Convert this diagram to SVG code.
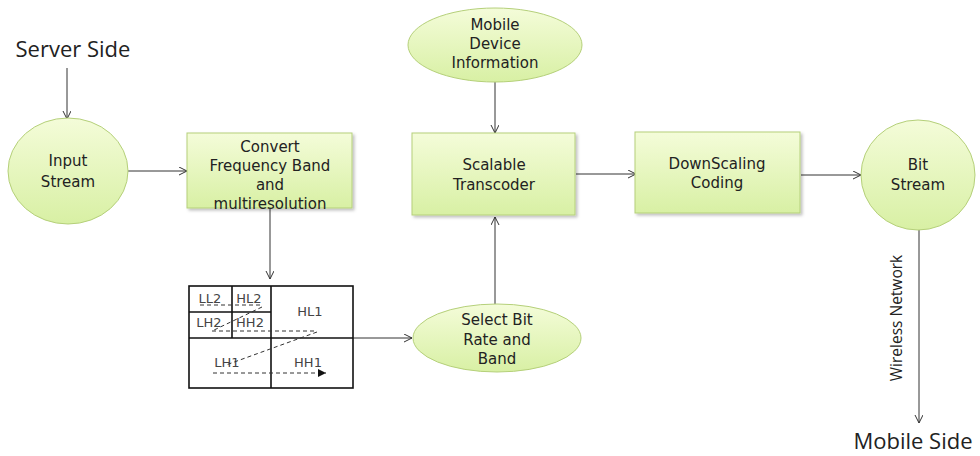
<svg xmlns="http://www.w3.org/2000/svg" width="980" height="456" viewBox="0 0 980 456">
<style>
.t{font-family:"Open Sans","Noto Sans","DejaVu Sans",sans-serif;fill:#222;text-anchor:middle}
.n{font-family:"DejaVu Sans",sans-serif;font-size:15px}
.big{font-size:22px}
.g{font-size:13px;fill:#444;font-family:"DejaVu Sans",sans-serif;text-anchor:middle}
.node{fill:url(#gr);stroke:#b5d07a;stroke-width:1}
.box{fill:url(#gr);stroke:#b5d07a;stroke-width:1;filter:url(#sh)}
.c{stroke:#333;stroke-width:1;fill:none}
.d{stroke:#333;stroke-width:1;fill:none;stroke-dasharray:4 3}
.grid{stroke:#111;stroke-width:1.6;fill:#fff}
</style>
<defs>
<linearGradient id="gr" x1="0" y1="0" x2="0" y2="1">
<stop offset="0" stop-color="#f4fcd9"/>
<stop offset="1" stop-color="#d8f0a4"/>
</linearGradient>
<filter id="sh" x="-10%" y="-10%" width="125%" height="130%">
<feDropShadow dx="2" dy="2" stdDeviation="1.5" flood-color="#000" flood-opacity="0.25"/>
</filter>
<marker id="a" markerWidth="10" markerHeight="10" refX="8" refY="4" orient="auto" markerUnits="userSpaceOnUse">
<path d="M0,0 L8,4 L0,8" fill="none" stroke="#333" stroke-width="1"/>
</marker>
<marker id="f" markerWidth="10" markerHeight="10" refX="8" refY="4" orient="auto" markerUnits="userSpaceOnUse">
<path d="M0,0 L8,4 L0,8 Z" fill="#111"/>
</marker>
</defs>
<g id="connectors">
<line class="c" x1="67" y1="68" x2="67" y2="119" marker-end="url(#a)"/>
<line class="c" x1="128" y1="171" x2="187" y2="171" marker-end="url(#a)"/>
<line class="c" x1="270" y1="208" x2="270" y2="279" marker-end="url(#a)"/>
<line class="c" x1="353" y1="338" x2="412" y2="338" marker-end="url(#a)"/>
<line class="c" x1="495" y1="304" x2="495" y2="217" marker-end="url(#a)"/>
<line class="c" x1="495" y1="82" x2="495" y2="133" marker-end="url(#a)"/>
<line class="c" x1="576" y1="174" x2="636" y2="174" marker-end="url(#a)"/>
<line class="c" x1="801" y1="175" x2="861" y2="175" marker-end="url(#a)"/>
<line class="c" x1="919" y1="230" x2="919" y2="423" marker-end="url(#a)"/>
</g>
<text class="t big" x="73" y="57">Server Side</text>
<text class="t big" x="913" y="449">Mobile Side</text>
<text class="t" style="font-size:15.5px" transform="translate(902,318) rotate(-90)">Wireless Network</text>
<g id="input">
<ellipse class="node" cx="68" cy="171" rx="60" ry="53"/>
<text class="t n" x="68" y="166">Input</text>
<text class="t n" x="68" y="187">Stream</text>
</g>
<g id="convert">
<rect class="box" x="187" y="133" width="165" height="75"/>
<text class="t n" x="270" y="152">Convert</text>
<text class="t n" x="270" y="171">Frequency Band</text>
<text class="t n" x="270" y="190">and</text>
<text class="t n" x="270" y="209">multiresolution</text>
</g>
<g id="mobile">
<ellipse class="node" cx="495" cy="45" rx="87" ry="37"/>
<text class="t n" x="495" y="30">Mobile</text>
<text class="t n" x="495" y="49">Device</text>
<text class="t n" x="495" y="68">Information</text>
</g>
<g id="scalable">
<rect class="box" x="412" y="133" width="163" height="82"/>
<text class="t n" x="494" y="170">Scalable</text>
<text class="t n" x="494" y="190">Transcoder</text>
</g>
<g id="downscaling">
<rect class="box" x="635" y="132" width="165" height="81"/>
<text class="t n" x="717" y="169">DownScaling</text>
<text class="t n" x="717" y="188">Coding</text>
</g>
<g id="bitstream">
<ellipse class="node" cx="918" cy="175" rx="57" ry="55"/>
<text class="t n" x="918" y="170">Bit</text>
<text class="t n" x="918" y="190">Stream</text>
</g>
<g id="select">
<ellipse class="node" cx="497" cy="338" rx="84" ry="34"/>
<text class="t n" x="497" y="325">Select Bit</text>
<text class="t n" x="497" y="345">Rate and</text>
<text class="t n" x="497" y="364">Band</text>
</g>
<g id="subbands">
<rect class="grid" x="189" y="286" width="164" height="102"/>
<line class="grid" x1="271" y1="286" x2="271" y2="388"/>
<line class="grid" x1="189" y1="338" x2="353" y2="338"/>
<line class="grid" x1="232" y1="286" x2="232" y2="338"/>
<line class="grid" x1="189" y1="312" x2="271" y2="312"/>
<text class="g" x="210" y="303">LL2</text>
<text class="g" x="249" y="303">HL2</text>
<text class="g" x="209" y="327">LH2</text>
<text class="g" x="250" y="327">HH2</text>
<text class="g" x="310" y="316">HL1</text>
<text class="g" x="227" y="367">LH1</text>
<text class="g" x="308" y="367">HH1</text>
<line class="d" x1="200" y1="305" x2="260" y2="305"/>
<line class="d" x1="262" y1="307" x2="212" y2="331"/>
<line class="d" x1="212" y1="331" x2="317" y2="331"/>
<line class="d" x1="317" y1="332" x2="226" y2="365"/>
<line class="d" x1="213" y1="373" x2="326" y2="373" marker-end="url(#f)"/>
</g>
</svg>
